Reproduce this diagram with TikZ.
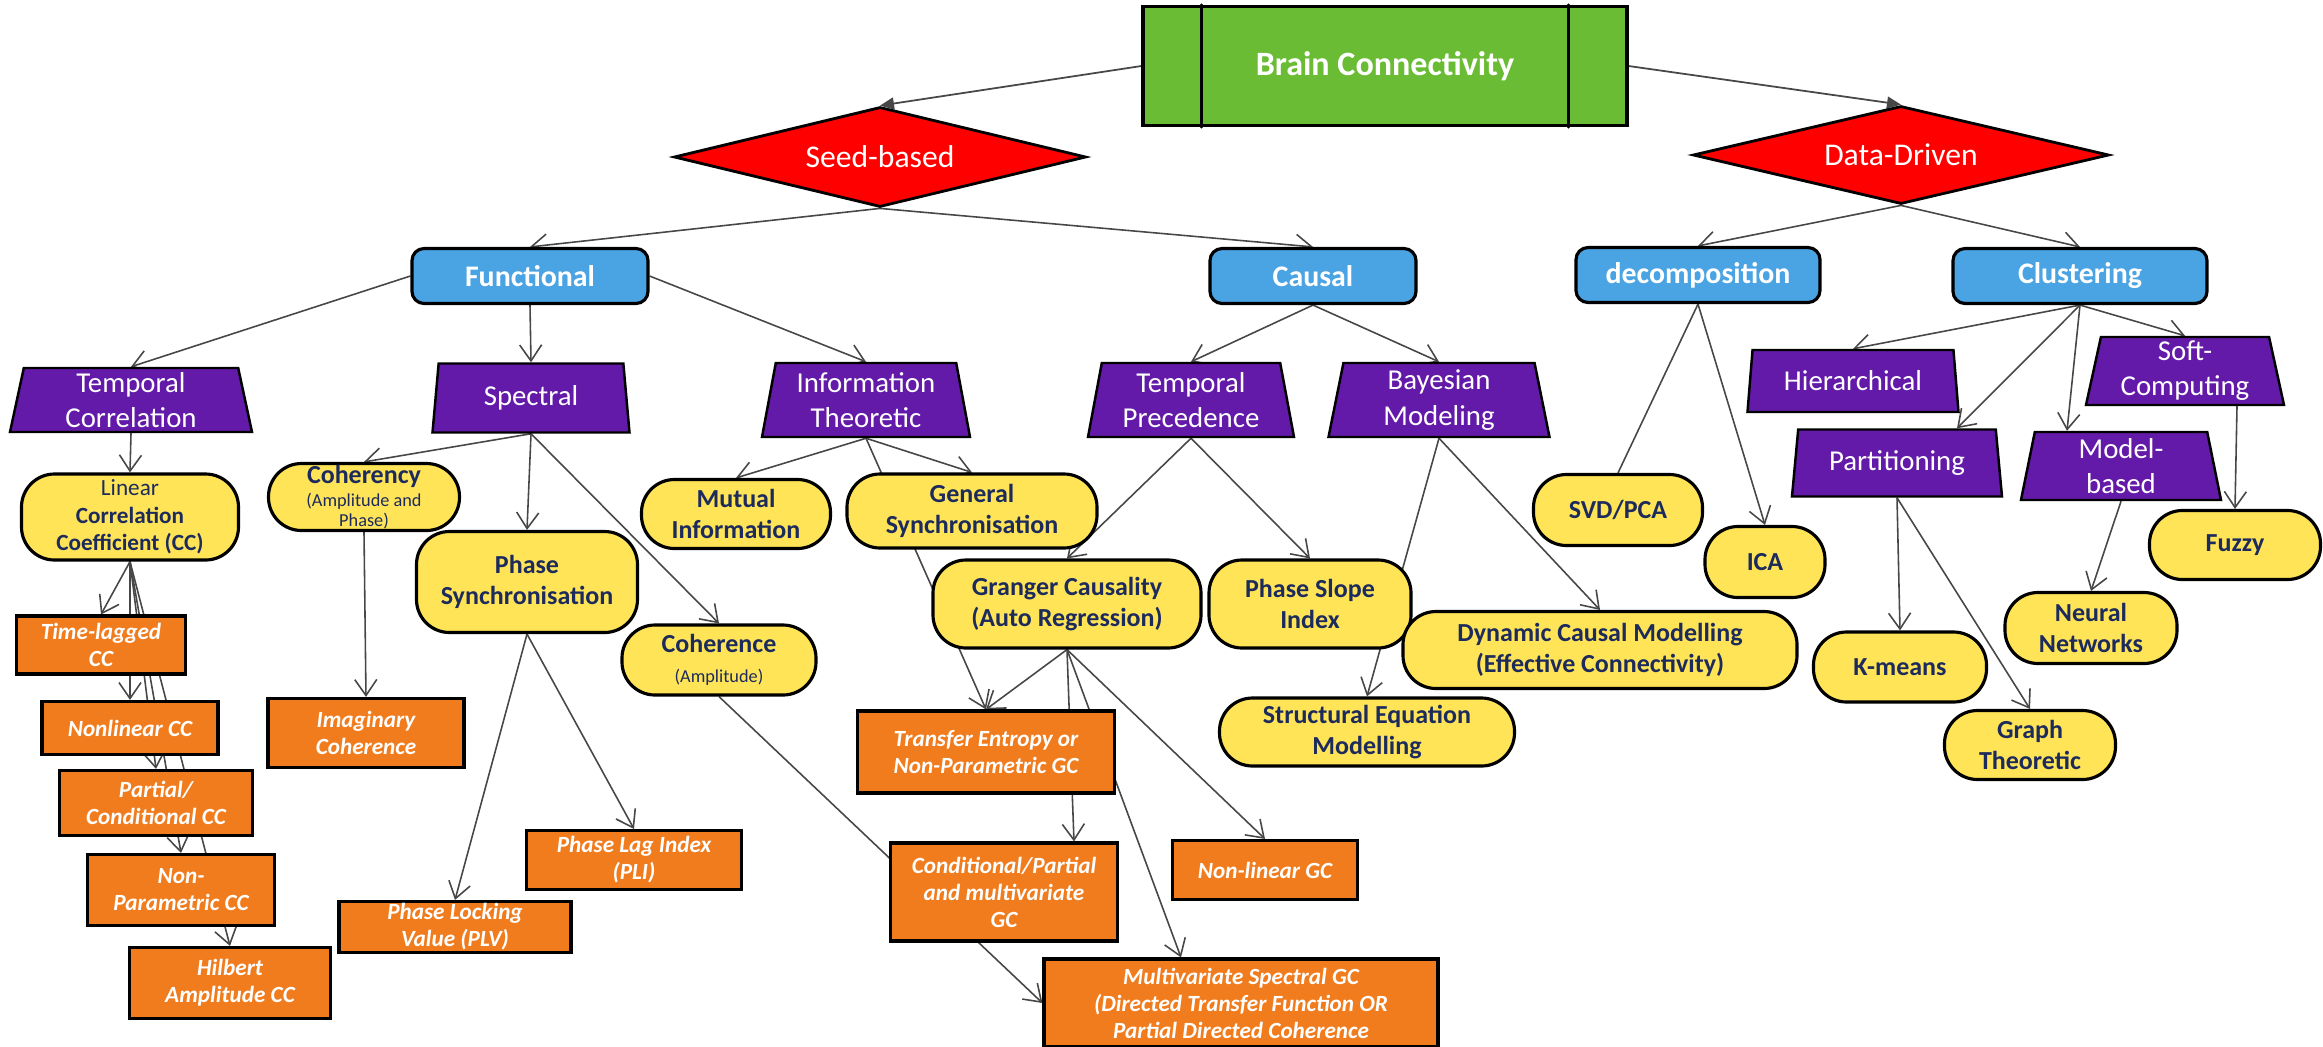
\documentclass[tikz,border=0pt]{standalone}
\usepackage{fontspec}
\setmainfont{Carlito}
\usetikzlibrary{shapes.geometric,arrows.meta,backgrounds}

% Colours
\definecolor{rootgreen}{RGB}{106,188,52}
\definecolor{famblue}{RGB}{74,163,226}
\definecolor{classpurple}{RGB}{100,26,168}
\definecolor{methodyellow}{RGB}{255,228,88}
\definecolor{methodnavy}{RGB}{28,43,92}
\definecolor{variantorange}{RGB}{240,124,30}

% Small regular text inside the yellow boxes
\newcommand{\ampfont}{\mdseries\fontsize{5.2}{6}\selectfont}

\tikzset{
  rootbox/.style={rectangle,draw=black,line width=0.9pt,fill=rootgreen,text=white,
    font=\fontsize{9.7}{11}\selectfont\bfseries,minimum width=48.4mm,minimum height=11.9mm,inner sep=0pt},
  branchbox/.style={diamond,aspect=4,draw=black,line width=0.8pt,fill=red,text=white,
    font=\fontsize{9}{10}\selectfont,inner sep=0pt,minimum width=41.2mm,minimum height=10mm},
  familybox/.style={rectangle,rounded corners=1.2mm,draw=black,line width=0.9pt,fill=famblue,text=white,
    font=\fontsize{8.5}{10}\selectfont\bfseries,minimum height=5.5mm,inner sep=0pt},
  classbox/.style={trapezium,trapezium angle=76,trapezium stretches body,draw=black,line width=0.7pt,
    fill=classpurple,text=white,font=\fontsize{8.2}{10}\selectfont,align=center,inner sep=0pt},
  methodbox/.style={rectangle,rounded corners=3.3mm,draw=black,line width=0.9pt,fill=methodyellow,
    text=methodnavy,font=\fontsize{7.4}{8.6}\selectfont\bfseries,align=center,inner sep=0pt},
  variantbox/.style={rectangle,draw=black,line width=0.9pt,fill=variantorange,text=white,
    font=\fontsize{6.6}{7.7}\selectfont\bfseries\itshape,align=center,inner sep=0pt},
  link/.style={draw=black!72,line width=0.45pt,-{Straight Barb[length=1.6mm,width=2.2mm]}},
  plainlink/.style={draw=black!72,line width=0.45pt},
  toplink/.style={draw=black!72,line width=0.5pt,-{Triangle[length=1.4mm,width=1.2mm]}},
}

\begin{document}
\begin{tikzpicture}[x=0.1mm,y=-0.1mm,line cap=round]
  \useasboundingbox (0,0) rectangle (2323,1046);

  % Root and the two approaches
  \node[rootbox] (brain) at (1385,66) {Brain Connectivity};
  \draw[line width=0.9pt] ([xshift=6mm]brain.north west) -- ([xshift=6mm]brain.south west);
  \draw[line width=0.9pt] ([xshift=-6mm]brain.north east) -- ([xshift=-6mm]brain.south east);
  \node[branchbox] (seed) at (880,157) {Seed-based};
  \node[branchbox,minimum width=41.6mm,minimum height=9.8mm] (data) at (1901,155) {Data-Driven};

  % Families
  \node[familybox,minimum width=23.6mm] (func) at (530,276) {Functional};
  \node[familybox,minimum width=20.6mm] (causal) at (1313,276) {Causal};
  \node[familybox,minimum width=24.4mm] (decomp) at (1698,275) {decomposition};
  \node[familybox,minimum width=25.4mm] (clust) at (2080,276) {Clustering};

  % Classes
  \node[classbox,minimum width=24.2mm,minimum height=6.4mm] (tcorr) at (131,400) {Temporal\\Correlation};
  \node[classbox,minimum width=19.7mm,minimum height=6.9mm] (spec) at (531,398) {Spectral};
  \node[classbox,minimum width=20.8mm,minimum height=7.4mm] (info) at (866,400) {Information\\Theoretic};
  \node[classbox,minimum width=20.6mm,minimum height=7.4mm] (tprec) at (1191,400) {Temporal\\Precedence};
  \node[classbox,minimum width=22.1mm,minimum height=7.4mm] (bayes) at (1439,400) {Bayesian\\Modeling};
  \node[classbox,minimum width=21.1mm,minimum height=6.2mm] (hier) at (1853,381) {Hierarchical};
  \node[classbox,minimum width=19.8mm,minimum height=6.8mm] (soft) at (2185,371) {Soft-\\Computing};
  \node[classbox,minimum width=21.0mm,minimum height=6.7mm] (part) at (1897,463) {Partitioning};
  \node[classbox,minimum width=20.0mm,minimum height=6.8mm] (model) at (2121,466) {Model-\\based};

  % Methods
  \node[methodbox,minimum width=21.7mm,minimum height=8.6mm,font=\fontsize{6.6}{7.8}\selectfont\bfseries]
    (lincc) at (130,517) {{\mdseries Linear}\\Correlation\\Coefficient (CC)};
  \node[methodbox,minimum width=19.1mm,minimum height=6.7mm] (cohy) at (364,497)
    {Coherency\\[-2pt]{\ampfont(Amplitude and}\\[-3pt]{\ampfont Phase)}};
  \node[methodbox,minimum width=22.1mm,minimum height=10.1mm] (psync) at (527,582) {Phase\\Synchronisation};
  \node[methodbox,minimum width=19.4mm,minimum height=7.0mm] (coh) at (719,660) {Coherence\\{\ampfont(Amplitude)}};
  \node[methodbox,minimum width=18.9mm,minimum height=6.9mm] (mi) at (736,514) {Mutual\\Information};
  \node[methodbox,minimum width=25.0mm,minimum height=7.4mm] (gsync) at (972,511) {General\\Synchronisation};
  \node[methodbox,minimum width=26.8mm,minimum height=8.8mm] (gc) at (1067,604) {Granger Causality\\(Auto Regression)};
  \node[methodbox,minimum width=20.2mm,minimum height=8.8mm] (psi) at (1310,604) {Phase Slope\\Index};
  \node[methodbox,minimum width=39.4mm,minimum height=7.7mm] (dcm) at (1600,650) {Dynamic Causal Modelling\\(Effective Connectivity)};
  \node[methodbox,minimum width=29.5mm,minimum height=6.8mm] (sem) at (1367,732) {Structural Equation\\Modelling};
  \node[methodbox,minimum width=16.9mm,minimum height=7.1mm] (svd) at (1618,510) {SVD/PCA};
  \node[methodbox,minimum width=12.0mm,minimum height=7.1mm] (ica) at (1765,562) {ICA};
  \node[methodbox,minimum width=17.3mm,minimum height=7.0mm] (km) at (1900,667) {K-means};
  \node[methodbox,minimum width=17.1mm,minimum height=6.9mm] (gt) at (2030,745) {Graph\\Theoretic};
  \node[methodbox,minimum width=17.2mm,minimum height=7.1mm] (nn) at (2091,628) {Neural\\Networks};
  \node[methodbox,minimum width=17.1mm,minimum height=6.9mm] (fuzzy) at (2235,545) {Fuzzy};

  % Variants
  \node[variantbox,minimum width=16.9mm,minimum height=5.8mm] (tlag) at (101,645) {Time-lagged\\CC};
  \node[variantbox,minimum width=17.6mm,minimum height=5.3mm] (nlcc) at (130,728) {Nonlinear CC};
  \node[variantbox,minimum width=19.3mm,minimum height=6.5mm] (pcc) at (156,803) {Partial/\\Conditional CC};
  \node[variantbox,minimum width=18.7mm,minimum height=7.1mm] (npcc) at (181,890) {Non-\\Parametric CC};
  \node[variantbox,minimum width=20.1mm,minimum height=7.1mm] (hilb) at (230,983) {Hilbert\\Amplitude CC};
  \node[variantbox,minimum width=19.6mm,minimum height=6.9mm] (imag) at (366,733) {Imaginary\\Coherence};
  \node[variantbox,minimum width=23.2mm,minimum height=5.1mm] (plv) at (455,927) {Phase Locking\\Value (PLV)};
  \node[variantbox,minimum width=21.5mm,minimum height=5.9mm] (pli) at (634,860) {Phase Lag Index\\(PLI)};
  \node[variantbox,minimum width=25.7mm,minimum height=8.2mm] (te) at (986,752) {Transfer Entropy or\\Non-Parametric GC};
  \node[variantbox,minimum width=22.7mm,minimum height=9.8mm] (cond) at (1004,892) {Conditional/Partial\\and multivariate\\GC};
  \node[variantbox,minimum width=18.5mm,minimum height=5.9mm] (nlgc) at (1265,870) {Non-linear GC};
  \node[variantbox,minimum width=39.4mm,minimum height=8.8mm] (msgc) at (1241,1003)
    {Multivariate Spectral GC\\(Directed Transfer Function OR\\Partial Directed Coherence};

  \begin{scope}[on background layer]
    % Top levels
    \draw[toplink] (brain.west) -- (seed.north);
    \draw[toplink] (brain.east) -- (data.north);
    \draw[link] (seed.south) -- (func.north);
    \draw[link] (seed.south) -- (causal.north);
    \draw[link] (data.south) -- (decomp.north);
    \draw[link] (data.south) -- (clust.north);

    % Functional branch
    \draw[link] (func.west) -- (tcorr.north);
    \draw[link] (func.south) -- (spec.north);
    \draw[link] (func.east) -- (info.north);
    \draw[link] (tcorr.south) -- (lincc.north);
    \draw[link] (lincc.south) -- (tlag.north);
    \draw[link] (lincc.south) -- (nlcc.north);
    \draw[link] (lincc.south) -- (pcc.north);
    \draw[link] (lincc.south) -- (npcc.north);
    \draw[link] (lincc.south) -- (hilb.north);
    \draw[link] (spec.south) -- (cohy.north);
    \draw[link] (spec.south) -- (psync.north);
    \draw[link] (spec.south) -- (coh.north);
    \draw[link] (cohy.south) -- (imag.north);
    \draw[link] (psync.south) -- (plv.north);
    \draw[link] (psync.south) -- (pli.north);
    \draw[link] (coh.south) -- (msgc.west);
    \draw[link] (info.south) -- (mi.north);
    \draw[link] (info.south) -- (gsync.north);
    \draw[link] (info.south) -- (te.north);

    % Causal branch
    \draw[link] (causal.south) -- (tprec.north);
    \draw[link] (causal.south) -- (bayes.north);
    \draw[link] (tprec.south) -- (gc.north);
    \draw[link] (tprec.south) -- (psi.north);
    \draw[link] (bayes.south) -- (sem.north);
    \draw[link] (bayes.south) -- (dcm.north);
    \draw[link] (gc.south) -- (te.north);
    \draw[link] (gc.south) -- ([xshift=7mm]cond.north);
    \draw[link] (gc.south) -- ([xshift=-6mm]msgc.north);
    \draw[link] (gc.south) -- (nlgc.north);

    % Data-driven branch
    \draw[plainlink] (decomp.south) -- (svd.north);
    \draw[link] (decomp.south) -- (ica.north);
    \draw[link] (clust.south) -- (hier.north);
    \draw[link] (clust.south) -- ([xshift=6mm]part.north);
    \draw[link] (clust.south) -- ([xshift=-5.4mm]model.north);
    \draw[link] (clust.south) -- (soft.north);
    \draw[link] (part.south) -- (km.north);
    \draw[link] (part.south) -- (gt.north);
    \draw[link] (model.south) -- (nn.north);
    \draw[link] ([xshift=5.2mm]soft.south) -- (fuzzy.north);
  \end{scope}
\end{tikzpicture}
\end{document}
